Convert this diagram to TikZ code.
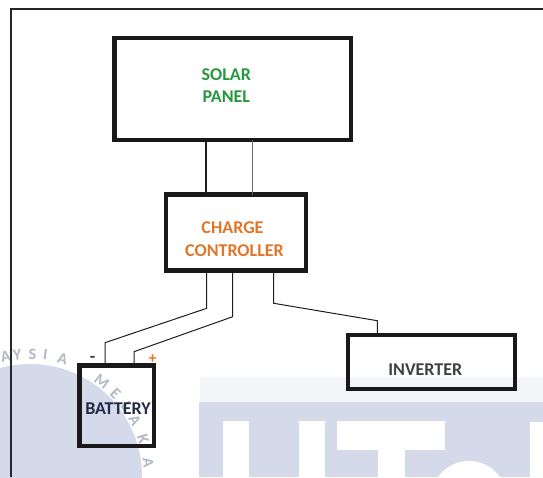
\documentclass[tikz,border=0pt]{standalone}
\usepackage{fontspec}
\setmainfont{Carlito}
\definecolor{wm}{RGB}{212,218,234}
\definecolor{wmband}{RGB}{244,245,248}
\definecolor{wmtext}{RGB}{178,184,196}
\definecolor{solargreen}{RGB}{40,152,62}
\definecolor{ccorange}{RGB}{226,118,40}
\definecolor{batnavy}{RGB}{32,42,68}
\definecolor{invgray}{RGB}{64,64,64}
\definecolor{wirec}{RGB}{30,30,30}
\begin{document}
\begin{tikzpicture}[x=1pt,y=-1pt,
  box/.style={draw=black!90, rectangle, inner sep=0pt, outer sep=0pt},
  lbl/.style={anchor=base, font=\bfseries\fontsize{18}{22}\selectfont, inner sep=0pt},
  wire/.style={draw=wirec, line width=1pt},
  wmletter/.style={text=wmtext, font=\bfseries\fontsize{16}{16}\selectfont, inner sep=0pt},
  framestyle/.style={draw=black!85, line width=2.2pt}]
\useasboundingbox (0,0) rectangle (543,477);
% ---------- watermark ----------
\begin{scope}
\clip (0,0) rectangle (543,477);
\fill[wmband] (200,377) rectangle (543,401.7);
\fill[wm] (199.3,401.7) rectangle (543,477);
\fill[white] (223.3,421) rectangle (249,477);
\fill[white] (299.3,421) rectangle (325,477);
\fill[white] (337.3,421) rectangle (444.7,450);
\fill[white] (378,450) rectangle (405,477);
\fill[white] (469,499) circle[radius=38];
\fill[white] (529.7,421.7) rectangle (543,477);
\fill[wm] (30,476) circle[radius=112];
\foreach \ang/\ch [count=\i] in {101.6/A,96/Y,88.8/S,82.8/I,74.4/A}
  \node[wmletter, rotate=\ang-90] (wa\i) at ([shift={(30,476)}]-\ang:122) {\ch};
\foreach \ang/\ch [count=\i] in {52.8/M,44/E,36/L,28/A,18/K,6.3/A}
  \node[wmletter, rotate=\ang-90] (wb\i) at ([shift={(30,476)}]-\ang:119) {\ch};
\end{scope}
% ---------- frame ----------
\draw[framestyle] (11,477) -- (11,8.7) -- (543,8.7);
% ---------- boxes ----------
\node[box, line width=4.5pt, minimum width=236.5pt, minimum height=102pt] (solar) at (232.75,89) {};
\node[box, line width=4.2pt, minimum width=140pt, minimum height=76pt] (cc) at (236,232.5) {};
\node[box, line width=4.3pt, minimum width=74.5pt, minimum height=80.5pt] (bat) at (116.75,405.75) {};
\node[box, line width=4pt, minimum width=166.4pt, minimum height=53.4pt] (inv) at (431.5,362) {};
% ---------- wires ----------
\coordinate (s1) at (206,0);
\coordinate (s2) at (252.7,0);
\draw[wire, line width=1.3pt] (solar.south -| s1) -- (cc.north -| s1);
\draw[wire, draw=black!60, line width=0.9pt] (solar.south -| s2) -- (cc.north -| s2);
\coordinate (w1a) at (206.7,308.3);
\coordinate (w1b) at (105,342.7);
\coordinate (w2a) at (232.7,316.7);
\coordinate (w2b) at (134,351.7);
\coordinate (w3a) at (273.7,303.3);
\coordinate (w3b) at (377.3,320.7);
\draw[wire] (cc.south -| w1a) -- (w1a) -- (w1b) -- (bat.north -| w1b);
\draw[wire] (cc.south -| w2a) -- (w2a) -- (w2b) -- (bat.north -| w2b);
\draw[wire] (cc.south -| w3a) -- (w3a) -- (w3b) -- (inv.north -| w3b);
% ---------- labels ----------
\node[lbl, text=solargreen] (tsolar) at (226.3,80) {SOLAR};
\node[lbl, text=solargreen] (tpanel) at (226.3,102.7) {PANEL};
\node[lbl, text=ccorange] (tcharge) at (232.5,233.3) {CHARGE};
\node[lbl, text=ccorange] (tctrl) at (234.5,256) {CONTROLLER};
\node[lbl, text=batnavy] (tbat) at (118,414.3) {BATTERY};
\node[lbl, text=invgray] (tinv) at (425.3,375) {INVERTER};
\node[anchor=base, inner sep=0pt, text=invgray, font=\bfseries\fontsize{18}{18}\selectfont] (minus) at (92.7,362.4) {-};
\node[anchor=base, inner sep=0pt, text=ccorange, font=\bfseries\fontsize{16}{16}\selectfont] (plus) at (152.7,363.3) {+};
\end{tikzpicture}
\end{document}
